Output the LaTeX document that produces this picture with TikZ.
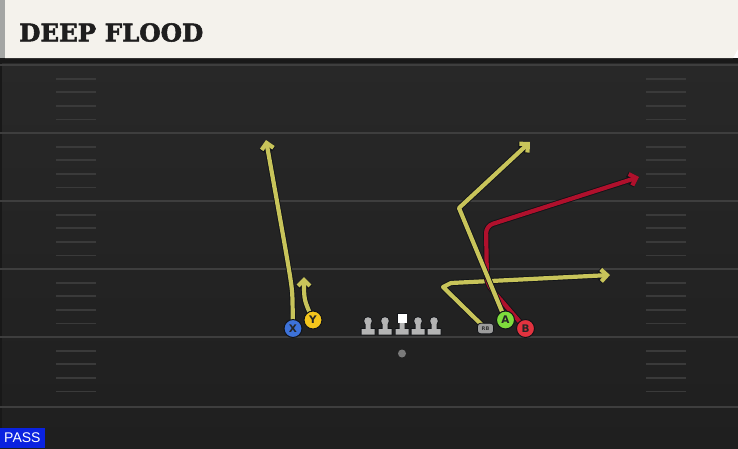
\documentclass[tikz,border=0pt]{standalone}
\usepackage{fontspec}
\setmainfont{DejaVu Sans}
\newfontfamily\headfont{DejaVu Serif}[FakeBold=2.2]
\newfontfamily\passfont{Liberation Sans}
\usetikzlibrary{arrows.meta}
\pgfdeclarelayer{back}
\pgfdeclarelayer{bg}
\pgfsetlayers{back,bg,main}
\definecolor{fieldtop}{HTML}{282828}
\definecolor{fieldbot}{HTML}{1F1F1F}
\definecolor{cream}{HTML}{F4F2EC}
\definecolor{stripgray}{HTML}{A4A6A4}
\definecolor{yardline}{HTML}{3E3E3E}
\definecolor{hashline}{HTML}{3A3A3A}
\definecolor{routeyellow}{HTML}{C8C45A}
\definecolor{routered}{HTML}{B0102C}
\definecolor{outlinec}{HTML}{121418}
\definecolor{xblue}{HTML}{3D72D9}
\definecolor{yyellow}{HTML}{F4C51C}
\definecolor{agreen}{HTML}{7EDC3C}
\definecolor{bred}{HTML}{E2333F}
\definecolor{lgray}{HTML}{B4B4B4}
\definecolor{rbgray}{HTML}{9C9C9C}
\definecolor{qbgray}{HTML}{7A7A7A}
\definecolor{passblue}{HTML}{0A22E0}
\definecolor{headtext}{HTML}{1E1E1E}
\tikzset{
  player/.style={circle, draw=outlinec, line width=1pt, minimum size=18pt, inner sep=0pt,
    text=black!85, font=\bfseries\fontsize{10.5}{10.5}\selectfont},
  route/.style={line width=4.2pt, line join=round, line cap=round, draw=#1,
    -{Straight Barb[length=6pt,width=12pt]},
    preaction={draw=outlinec, line width=6pt, line join=round,
      -{Straight Barb[length=6pt,width=12pt]}}},
  yard/.style={draw=yardline, line width=2pt},
  hashmark/.style={draw=hashline, line width=1.8pt}
}
\begin{document}
\begin{tikzpicture}[x=1pt,y=-1pt]
\useasboundingbox (0,0) rectangle (738,448);
\begin{pgfonlayer}{back}
% field
\shade[top color=fieldtop, bottom color=fieldbot] (0,448) rectangle (738,60);
\fill[black!40!fieldtop] (0,60) rectangle (2,448);
% yard lines
\foreach \yy in {65,133,201,269,337,407}
  \draw[yard] (0,\yy) -- (738,\yy);
% hash marks
\foreach \base in {65,133,201,269,337}
  \foreach \k in {1,2,3,4} {
    \pgfmathsetmacro\hy{\base+13.6*\k}
    \draw[hashmark] (56,\hy) -- (96,\hy);
    \draw[hashmark] (646,\hy) -- (686,\hy);
  }
% header
\fill[black!90] (0,58) rectangle (738,63);
\fill[cream] (5,0) -- (738,0) -- (738,49) -- (733,58) -- (5,58) -- cycle;
\fill[stripgray] (0,0) rectangle (5,58);
\end{pgfonlayer}
\node[anchor=west, inner sep=0pt, text=headtext,
  font=\headfont\bfseries\fontsize{24.5}{24.5}\selectfont] (title) at (19,32.5) {DEEP FLOOD};
% line
\foreach \lx/\nm in {368/l1,385/l2,418/l4,434/l5} {
  \coordinate (\nm) at (\lx,321);
  \filldraw[outlinec, line width=1.6pt] (\lx,321) circle (3.8pt)
     (\lx-2.5,323) rectangle (\lx+2.5,331) (\lx-6.5,329) rectangle (\lx+6.5,334.5);
  \fill[lgray] (\lx,321) circle (3.8pt)
     (\lx-2.5,323) rectangle (\lx+2.5,331) (\lx-6.5,329) rectangle (\lx+6.5,334.5);
}
\coordinate (l3) at (402,318);
\filldraw[outlinec, line width=1.6pt] (397.5,313.5) rectangle (406.5,322.5)
   (399.5,322) rectangle (404.5,331) (395.5,329) rectangle (408.5,334.5);
\fill[lgray] (399.5,322) rectangle (404.5,331) (395.5,329) rectangle (408.5,334.5);
\fill[white] (397.5,313.5) rectangle (406.5,322.5);
\node[circle, fill=qbgray, inner sep=0pt, minimum size=8pt] (qb) at (402,353.5) {};
% players
\node[player, fill=xblue] (X) at (293,328.5) {X};
\node[player, fill=yyellow] (Y) at (313,320) {Y};
\node[draw=outlinec, line width=0.8pt, fill=rbgray, rounded corners=3pt, minimum width=16pt,
  minimum height=10.5pt, inner sep=0pt, text=black!80,
  font=\bfseries\fontsize{5}{5}\selectfont] (RB) at (485.5,328.5) {RB};
\node[player, fill=agreen] (A) at (505.5,320) {A};
\node[player, fill=bred] (B) at (525.5,328.5) {B};
% routes
\coordinate (xt) at (266,140);
\coordinate (yt) at (304,277);
\coordinate (rbc1) at (443,287);
\coordinate (rbt) at (610,275);
\coordinate (ac) at (459,208);
\coordinate (at) at (530,142);
\coordinate (bc1) at (487,284);
\coordinate (bc2) at (486,226);
\coordinate (bt) at (639,177);
\begin{pgfonlayer}{bg}
\draw[route=routeyellow] (X.center) -- (292.5,300) .. controls (292,285) .. (xt);
\draw[route=routeyellow] (Y.center) .. controls (304,300) .. (yt);
\draw[route=routeyellow] (RB.center) -- (rbc1) -- (451,283) -- (rbt);
\draw[route=routered, rounded corners=7pt] (B.center) -- (bc1) -- (bc2) -- (bt);
\draw[route=routeyellow] (A.center) -- (ac) -- (at);
\end{pgfonlayer}
% pass label
\node[fill=passblue, text=white, anchor=south west, inner xsep=4pt, inner ysep=0pt,
  minimum height=20pt, font=\passfont\fontsize{14}{14}\selectfont] (pass) at (0,448) {PASS};
\end{tikzpicture}
\end{document}
